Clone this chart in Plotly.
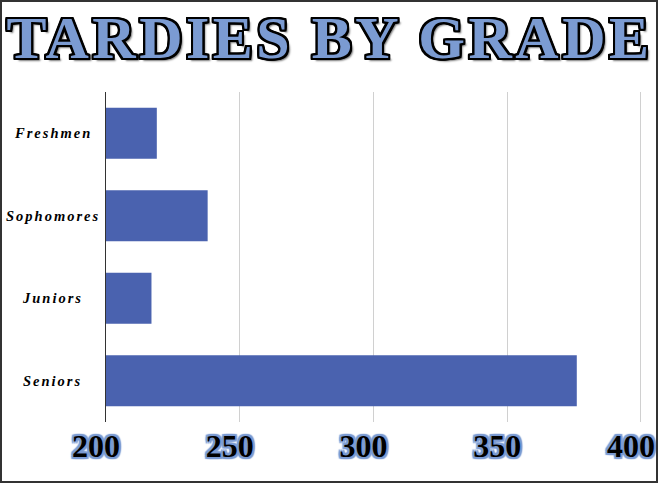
import plotly.graph_objects as go

categories = ["Freshmen", "Sophomores", "Juniors", "Seniors"]
tardies = [219, 238, 217, 376]
x_ticks = [200, 250, 300, 350, 400]
x_range = [200, 400.75]
title_text = "TARDIES BY GRADE"

W, H = 659, 484
ML, MR, MT, MB = 106, 16, 92, 62
PW = W - ML - MR
PH = H - MT - MB

bar_color = "#4A62AF"
light_blue = "#7B9BD2"

def px_x(px):
    return (px - ML) / PW

def px_y(py):
    return (H - MB - py) / PH

outline = ", ".join(
    f"{dx}px {dy}px 0 #000"
    for dx, dy in [(2, 0), (-2, 0), (0, 2), (0, -2), (2, 2), (-2, -2), (2, -2), (-2, 2),
                   (1, 2), (2, 1), (-1, 2), (-2, 1), (1, -2), (2, -1), (-1, -2), (-2, -1)]
) + ", 3px 3px 2px #777"

glow = ", ".join(
    f"{dx}px {dy}px 1px {light_blue}"
    for dx, dy in [(2, 0), (-2, 0), (0, 2), (0, -2), (2, 2), (-2, -2), (2, -2), (-2, 2)]
)

fig = go.Figure()
fig.add_trace(go.Bar(
    y=categories,
    x=tardies,
    base=0,
    orientation="h",
    marker=dict(color=bar_color, line=dict(width=0)),
    width=0.62,
    hoverinfo="x+y",
))

annotations = []
for c in categories:
    annotations.append(dict(
        x=px_x(53), xref="paper", y=c, yref="y",
        text=c, showarrow=False, xanchor="center", yanchor="middle",
        font=dict(family="Liberation Serif", size=14.5, color="#000",
                  weight="bold", style="italic"),
    ))

fig.update_layout(
    width=W, height=H,
    autosize=False,
    margin=dict(l=ML, r=MR, t=MT, b=MB, autoexpand=False),
    paper_bgcolor="white",
    plot_bgcolor="white",
    showlegend=False,
    bargap=0.38,
    title=dict(
        text=title_text,
        x=0.5, xref="container", xanchor="center",
        y=1 - 37 / H, yref="container", yanchor="middle",
        automargin=False,
        font=dict(family="Liberation Serif", size=60, color=light_blue,
                  weight="bold", shadow=outline),
    ),
    xaxis=dict(
        range=x_range,
        automargin=False,
        tickvals=x_ticks,
        ticktext=[str(v) for v in x_ticks],
        showgrid=True, gridcolor="#D0D0D0", gridwidth=1,
        zeroline=False, showline=False, ticks="",
        ticklabelposition="outside left",
        ticklabelshift=14,
        ticklabelstandoff=2,
        ticklabeloverflow="allow",
        tickfont=dict(family="Liberation Serif", size=32, color="#000",
                      weight="bold", shadow=glow),
        fixedrange=True,
    ),
    yaxis=dict(
        categoryorder="array", categoryarray=categories,
        autorange="reversed",
        automargin=False,
        showticklabels=False, ticks="",
        showgrid=False, zeroline=False,
        showline=True, linecolor="#333", linewidth=1,
        fixedrange=True,
    ),
    annotations=annotations,
    shapes=[dict(
        type="rect", xref="paper", yref="paper",
        x0=px_x(1), x1=px_x(657), y0=px_y(482), y1=px_y(1),
        line=dict(color="#333", width=2), fillcolor="rgba(0,0,0,0)",
        layer="above",
    )],
)

post = """
document.documentElement.style.overflow = 'hidden';
document.body.style.margin = '0';
document.body.style.overflow = 'hidden';
var gd = document.getElementById('{plot_id}');
function spacing(){
  gd.querySelectorAll('.gtitle').forEach(function(e){ e.style.letterSpacing = '3.5px'; });
  gd.querySelectorAll('.annotation-text').forEach(function(e){ e.style.letterSpacing = '2px'; });
}
spacing();
gd.on('plotly_afterplot', spacing);
"""

fig.write_html("out.html", post_script=post, config={"displayModeBar": False})
